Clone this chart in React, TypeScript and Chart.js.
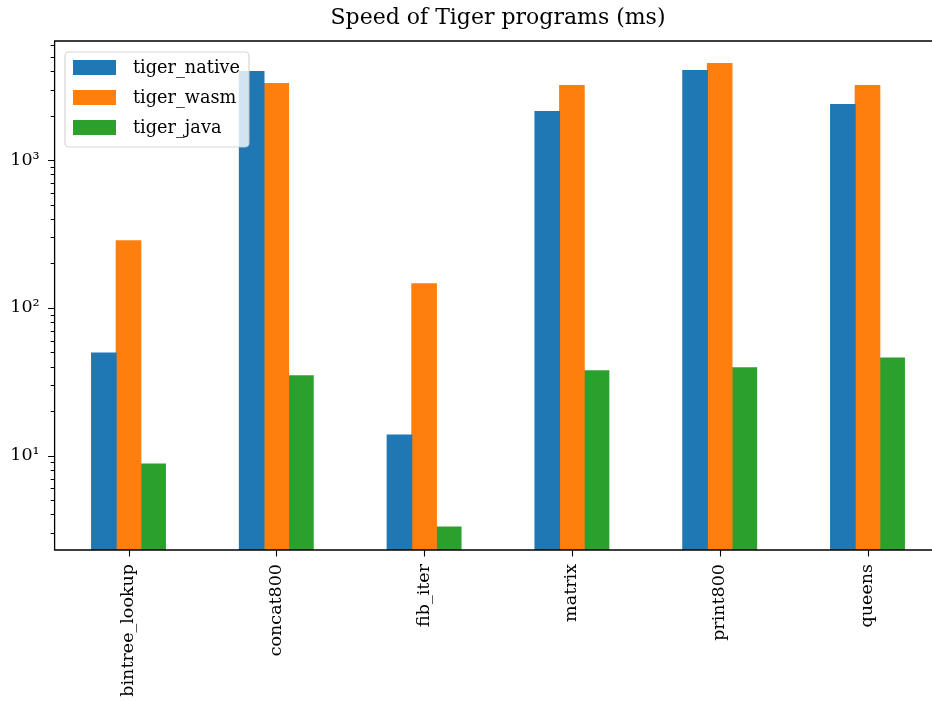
import React, { useEffect, useRef } from "react";
import { Chart, registerables } from "chart.js";

Chart.register(...registerables);

const categories = ["bintree_lookup", "concat800", "fib_iter", "matrix", "print800", "queens"];
const tigerNative = [49.6, 3978, 13.8, 2131, 4041, 2377];
const tigerWasm = [285, 3298, 145.7, 3196, 4507, 3196];
const tigerJava = [8.78, 34.7, 3.29, 37.5, 39.3, 45.9];
const seriesNames = ["tiger_native", "tiger_wasm", "tiger_java"];
const seriesColors = ["#1f77b4", "#ff7f0e", "#2ca02c"];
const yMin = 2.3;
const yMax = 6400;
const titleText = "Speed of Tiger programs (ms)";

const FONT = "'DejaVu Serif', 'Liberation Serif', serif";
const SUP: Record<string, string> = { "0": "⁰", "1": "¹", "2": "²", "3": "³", "4": "⁴" };

const decorPlugin = {
  id: "decor",
  afterDatasetsDraw(chart: any) {
    const ctx = chart.ctx;
    // legend box (inside axes, upper left)
    const x0 = 65, y0 = 52, w = 184, h = 95, r = 4;
    ctx.save();
    ctx.beginPath();
    ctx.moveTo(x0 + r, y0);
    ctx.arcTo(x0 + w, y0, x0 + w, y0 + h, r);
    ctx.arcTo(x0 + w, y0 + h, x0, y0 + h, r);
    ctx.arcTo(x0, y0 + h, x0, y0, r);
    ctx.arcTo(x0, y0, x0 + w, y0, r);
    ctx.closePath();
    ctx.fillStyle = "rgba(255,255,255,0.8)";
    ctx.fill();
    ctx.strokeStyle = "rgba(204,204,204,0.8)";
    ctx.lineWidth = 1.2;
    ctx.stroke();
    ctx.font = `17.7px ${FONT}`;
    ctx.textBaseline = "middle";
    ctx.textAlign = "left";
    seriesNames.forEach((name, i) => {
      const cy = 67.5 + i * 30;
      ctx.fillStyle = seriesColors[i];
      ctx.fillRect(73, cy - 7.5, 43, 15);
      ctx.fillStyle = "#000";
      ctx.fillText(name, 133, cy + 1);
    });
    ctx.restore();
  },
  afterDraw(chart: any) {
    const ctx = chart.ctx;
    const a = chart.chartArea;
    const y = chart.scales.y;
    const x = chart.scales.x;
    ctx.save();
    ctx.strokeStyle = "#000";
    ctx.lineWidth = 1.3;
    ctx.beginPath();
    ctx.moveTo(a.right, a.top);
    ctx.lineTo(a.left, a.top);
    ctx.lineTo(a.left, a.bottom);
    ctx.lineTo(a.right, a.bottom);
    ctx.stroke();
    ctx.lineWidth = 1.1;
    ctx.beginPath();
    for (let n = 0; n <= 3; n++) {
      for (let k = 1; k <= 9; k++) {
        const v = k * Math.pow(10, n);
        if (v < yMin || v > yMax) continue;
        const py = Math.round(y.getPixelForValue(v)) + 0.5;
        const len = k === 1 ? 6.5 : 4;
        ctx.moveTo(a.left, py);
        ctx.lineTo(a.left - len, py);
      }
    }
    categories.forEach((_, i) => {
      const px = Math.round(x.getPixelForValue(i)) + 0.5;
      ctx.moveTo(px, a.bottom);
      ctx.lineTo(px, a.bottom + 6.5);
    });
    ctx.stroke();
    ctx.restore();
  },
};

export default function App() {
  const ref = useRef<HTMLCanvasElement | null>(null);
  useEffect(() => {
    document.body.style.margin = "0";
    document.body.style.overflow = "hidden";
    const chart = new Chart(ref.current as HTMLCanvasElement, {
      type: "bar",
      data: {
        labels: categories,
        datasets: [
          { label: seriesNames[0], data: tigerNative, backgroundColor: seriesColors[0] },
          { label: seriesNames[1], data: tigerWasm, backgroundColor: seriesColors[1] },
          { label: seriesNames[2], data: tigerJava, backgroundColor: seriesColors[2] },
        ],
      },
      options: {
        responsive: false,
        animation: false,
        devicePixelRatio: 1,
        layout: { padding: { left: 0, right: 8.6, top: 0, bottom: 0 } },
        datasets: {
          bar: { categoryPercentage: 0.5, barPercentage: 1.0, borderWidth: 0, inflateAmount: 0.5 },
        },
        plugins: {
          legend: { display: false },
          tooltip: { enabled: false },
          title: {
            display: true,
            fullSize: false,
            text: titleText,
            color: "#000",
            font: { family: FONT, size: 22, weight: "normal" },
            padding: { top: 5, bottom: 9.6 },
          },
        },
        scales: {
          x: {
            type: "category",
            offset: true,
            grid: { display: false, drawTicks: false },
            border: { display: false },
            ticks: {
              minRotation: 90,
              maxRotation: 90,
              autoSkip: false,
              padding: 14,
              color: "#000",
              font: { family: FONT, size: 17.5 },
            },
            afterFit: (s: any) => {
              s.height = 152;
            },
          },
          y: {
            type: "logarithmic",
            min: yMin,
            max: yMax,
            grid: { display: false, drawTicks: false },
            border: { display: false },
            ticks: {
              autoSkip: false,
              padding: 15,
              color: "#000",
              font: { family: FONT, size: 17.5 },
              callback: (v: any) => {
                const e = Math.log10(Number(v));
                if (Math.abs(e - Math.round(e)) < 1e-9) {
                  return "10" + (SUP[String(Math.round(e))] || "");
                }
                return "";
              },
            },
            afterFit: (s: any) => {
              s.width = 54.6;
            },
          },
        },
      },
      plugins: [decorPlugin],
    } as any);
    return () => chart.destroy();
  }, []);
  return (
    <div style={{ position: "fixed", left: 0, top: 0, width: 950, height: 702, background: "#fff" }}>
      <canvas ref={ref} width={950} height={702} style={{ width: 950, height: 702 }} />
    </div>
  );
}
